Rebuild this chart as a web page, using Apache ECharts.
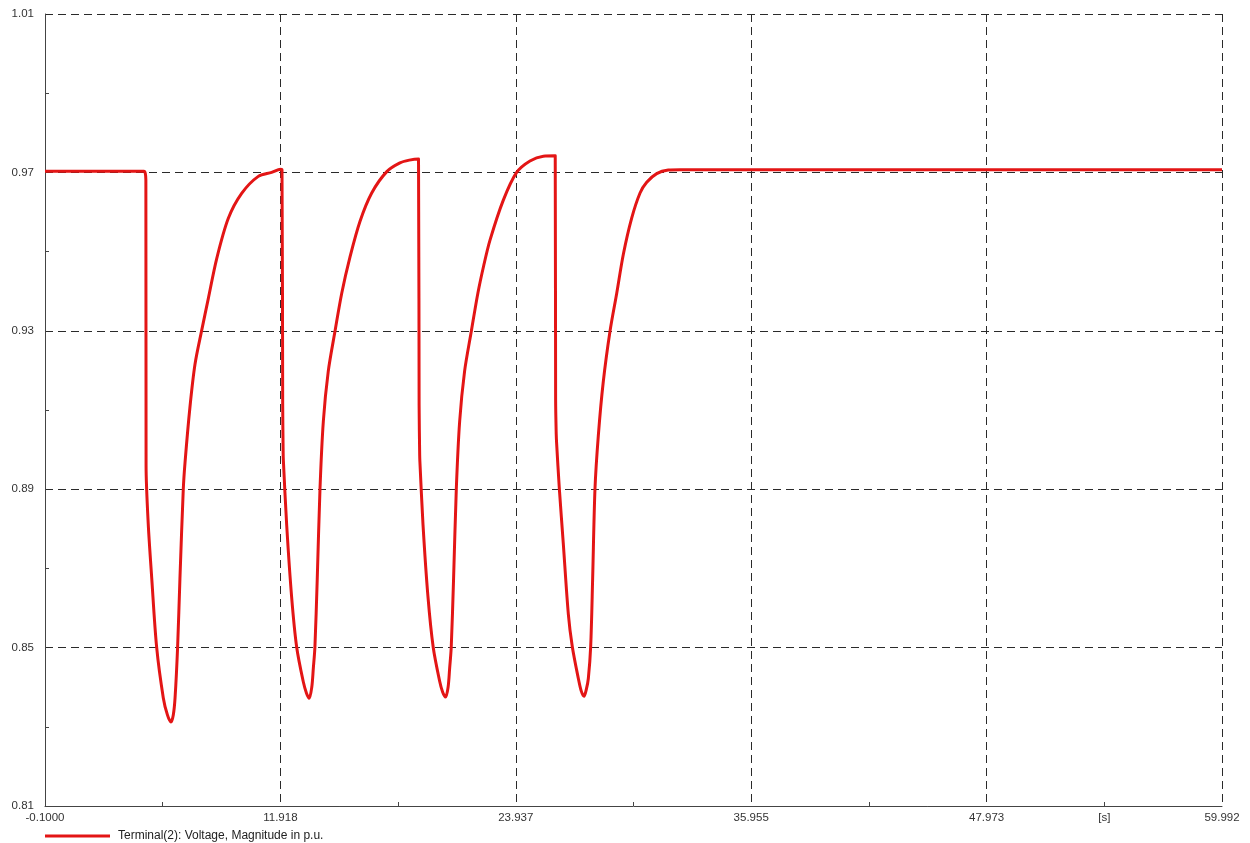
<!DOCTYPE html>
<html>
<head>
<meta charset="utf-8">
<script src="https://cdn.jsdelivr.net/npm/echarts@6/dist/echarts.min.js"></script>
<style>
html,body{margin:0;padding:0;background:#fff;}
#chart{width:1250px;height:843px;}
</style>
</head>
<body>
<div id="chart"></div>
<script>
// ---- data ----
const seriesName = 'Terminal(2): Voltage, Magnitude in p.u.';
const timeS = [
  -0.1, 4.95, 5.02, 5.05, 5.06, 5.17, 5.35, 5.60, 5.94, 6.15, 6.33, 6.45, 6.54, 6.67, 6.79, 6.96, 7.05, 7.30, 7.56, 7.90, 8.24, 8.67, 9.26, 9.94, 10.79, 11.47, 11.93, 12.00,
  12.035, 12.06, 12.07, 12.24, 12.49, 12.75, 13.09, 13.25, 13.39, 13.52, 13.60, 13.68, 13.80, 13.94, 14.11, 14.36, 14.71, 15.05, 15.47, 15.98, 16.58, 17.35, 18.02, 18.50, 18.97,
  19.00, 19.03, 19.04, 19.20, 19.45, 19.72, 20.05, 20.20, 20.35, 20.48, 20.56, 20.64, 20.76, 20.90, 21.07, 21.32, 21.67, 22.00, 22.30, 22.62, 23.30, 23.98, 24.66, 25.34, 25.95,
  25.97, 26.00, 26.02, 26.16, 26.36, 26.62, 26.82, 27.13, 27.28, 27.42, 27.54, 27.64, 27.76, 27.86, 27.98, 28.15, 28.40, 28.75, 29.09, 29.43, 29.85, 30.28, 30.62, 31.13, 31.72, 32.32,
  59.992
];
const voltagePu = [
  0.9703, 0.9703, 0.9698, 0.9680, 0.8960, 0.8813, 0.8675, 0.8501, 0.8373, 0.8330, 0.8312, 0.8330, 0.8373, 0.8501, 0.8675, 0.8900, 0.8968, 0.9107, 0.9216, 0.9301, 0.9382, 0.9483, 0.9584, 0.9647, 0.9690, 0.9700, 0.9708, 0.9706,
  0.9116, 0.8990, 0.8972, 0.8809, 0.8629, 0.8501, 0.8413, 0.8385, 0.8372, 0.8400, 0.8448, 0.8501, 0.8674, 0.8901, 0.9071, 0.9197, 0.9300, 0.9395, 0.9486, 0.9576, 0.9648, 0.9702, 0.9724, 0.9731, 0.9734,
  0.9114, 0.8985, 0.8970, 0.8810, 0.8630, 0.8501, 0.8415, 0.8388, 0.8375, 0.8400, 0.8448, 0.8501, 0.8674, 0.8901, 0.9071, 0.9197, 0.9300, 0.9395, 0.9465, 0.9529, 0.9630, 0.9700, 0.9729, 0.9741, 0.9742,
  0.9125, 0.9040, 0.9017, 0.8901, 0.8764, 0.8584, 0.8503, 0.8422, 0.8390, 0.8377, 0.8395, 0.8422, 0.8503, 0.8674, 0.8901, 0.9035, 0.9170, 0.9300, 0.9395, 0.9494, 0.9584, 0.9648, 0.9675, 0.9697, 0.9706, 0.9707,
  0.9707
];
const xTickValues = [-0.1, 11.918, 23.937, 35.955, 47.973, 59.992];
const xTickLabels = ['-0.1000', '11.918', '23.937', '35.955', '47.973', '59.992'];
const xMinorTicks = [5.909, 17.928, 29.946, 41.964, 53.983];
const xUnitValue = 53.983;
const xUnitLabel = '[s]';
const yTickValues = [0.81, 0.85, 0.89, 0.93, 0.97, 1.01];
const yTickLabels = ['0.81', '0.85', '0.89', '0.93', '0.97', '1.01'];
const yMinorTicks = [0.83, 0.87, 0.91, 0.95, 0.99];

// ---- chart ----
const points = timeS.map((t, i) => [t, voltagePu[i]]);
const xLabelValues = xTickValues.concat([xUnitValue]);
const xLabelTexts = xTickLabels.concat([xUnitLabel]);
const font = '"Liberation Sans", Arial, sans-serif';
const dashed = { color: '#2a2a2a', width: 1, type: [8, 5] };

const chart = echarts.init(document.getElementById('chart'), null, { renderer: 'canvas' });
chart.setOption({
  animation: false,
  backgroundColor: '#ffffff',
  grid: { left: 45, right: 28, top: 14, bottom: 37, containLabel: false, outerBoundsMode: 'none' },
  legend: {
    left: 40, top: 825,
    icon: 'rect', itemWidth: 65, itemHeight: 3,
    textStyle: { fontFamily: font, fontSize: 12, color: '#222', padding: [0, 0, 0, 3] },
    data: [seriesName]
  },
  xAxis: [{
    type: 'value', min: -0.1, max: 59.992, position: 'bottom',
    axisLine: { show: true, onZero: false, lineStyle: { color: '#444', width: 1 } },
    axisTick: { show: false, customValues: xTickValues },
    axisLabel: {
      customValues: xLabelValues, margin: 6,
      fontFamily: font, fontSize: 11.5, color: '#333',
      formatter: (v) => { const i = xLabelValues.findIndex(x => Math.abs(x - v) < 1e-6); return i >= 0 ? xLabelTexts[i] : ''; }
    },
    splitLine: { show: true, showMinLine: false, lineStyle: dashed }
  }, {
    type: 'value', min: -0.1, max: 59.992, position: 'bottom',
    axisLine: { show: false, onZero: false },
    axisTick: { show: true, inside: true, length: 4, customValues: xMinorTicks, lineStyle: { color: '#444' } },
    axisLabel: { show: false },
    splitLine: { show: false }
  }],
  yAxis: [{
    type: 'value', min: 0.81, max: 1.01, position: 'left',
    axisLine: { show: true, onZero: false, lineStyle: { color: '#444', width: 1 } },
    axisTick: { show: false, customValues: yTickValues },
    axisLabel: {
      customValues: yTickValues, margin: 11,
      fontFamily: font, fontSize: 11.5, color: '#333',
      formatter: (v) => { const i = yTickValues.findIndex(x => Math.abs(x - v) < 1e-6); return i >= 0 ? yTickLabels[i] : ''; }
    },
    splitLine: { show: true, showMinLine: false, lineStyle: dashed }
  }, {
    type: 'value', min: 0.81, max: 1.01, position: 'left',
    axisLine: { show: false, onZero: false },
    axisTick: { show: true, inside: true, length: 4, customValues: yMinorTicks, lineStyle: { color: '#444' } },
    axisLabel: { show: false },
    splitLine: { show: false }
  }],
  series: [{
    name: seriesName,
    type: 'line',
    xAxisIndex: 0, yAxisIndex: 0,
    data: points,
    showSymbol: false,
    symbol: 'none',
    smooth: 0.3,
    lineStyle: { color: '#e31515', width: 3, join: 'round' },
    itemStyle: { color: '#e31515' },
    z: 5
  }]
});
</script>
</body>
</html>
